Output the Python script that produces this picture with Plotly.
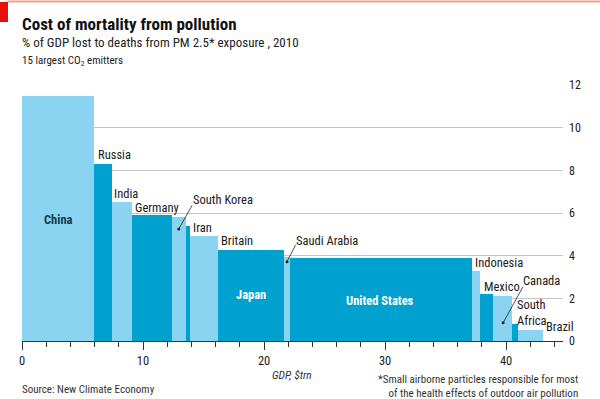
import numpy as np
import plotly.graph_objects as go

countries = ["China", "Russia", "India", "Germany", "South Korea", "Iran", "Britain", "Japan",
             "Saudi Arabia", "United States", "Indonesia", "Mexico", "Canada", "South Africa", "Brazil"]
gdp_trn = [5.92, 1.49, 1.71, 3.31, 1.10, 0.36, 2.28, 5.49, 0.52, 14.96, 0.69, 1.10, 1.55, 0.47, 2.12]
pct_gdp_lost = [11.5, 8.3, 6.5, 5.9, 5.8, 5.4, 4.9, 4.28, 3.92, 3.88, 3.3, 2.2, 2.1, 0.8, 0.5]
y_ticks = [0, 2, 4, 6, 8, 10, 12]
x_ticks = [0, 10, 20, 30, 40]

LIGHT = "#8bd4f1"
DARK = "#00a1cf"
FONT = "Liberation Sans Narrow, Roboto Condensed, Open Sans, sans-serif"

gdp = np.array(gdp_trn)
right = np.cumsum(gdp)
left = right - gdp
mid = (left + right) / 2
colors = [LIGHT if i % 2 == 0 else DARK for i in range(len(countries))]

fig = go.Figure()
fig.add_trace(go.Bar(x=mid, y=pct_gdp_lost, width=gdp, marker=dict(color=colors, line=dict(width=0)),
                     hoverinfo="skip", showlegend=False))

# label placement (layout): country -> (x, y, anchor, style)
label_pos = {
    "China": (3.0, 5.7, "center", "in_dark"),
    "Russia": (6.25, 8.72, "left", "out"),
    "India": (7.63, 6.91, "left", "out"),
    "Germany": (9.34, 6.25, "left", "out"),
    "South Korea": (14.13, 6.63, "left", "out"),
    "Iran": (14.13, 5.3, "left", "out"),
    "Britain": (16.45, 4.72, "left", "out"),
    "Japan": (18.9, 2.2, "center", "in_white"),
    "Saudi Arabia": (22.67, 4.72, "left", "out"),
    "United States": (29.6, 1.9, "center", "in_white"),
    "Indonesia": (37.46, 3.66, "left", "out"),
    "Mexico": (38.15, 2.56, "left", "out"),
    "Canada": (41.4, 2.83, "left", "out"),
    "South Africa": (40.9, 1.34, "left", "out"),
    "Brazil": (43.27, 0.66, "left", "out"),
}
ann = []
for c in countries:
    x, y, anc, style = label_pos[c]
    txt = c.replace("South Africa", "South<br>Africa")
    if style == "out":
        f = dict(family=FONT, size=12.5, color="#1a1a1a")
    elif style == "in_dark":
        f = dict(family=FONT, size=12.5, color="#123a4d")
        txt = "<b>" + txt + "</b>"
    else:
        f = dict(family=FONT, size=12.5, color="white")
        txt = "<b>" + txt + "</b>"
    ann.append(dict(x=x, y=y, xref="x", yref="y", text=txt, showarrow=False, xanchor=anc,
                    xshift=-2 if anc == "left" else 0, yanchor="middle", font=f, align="left"))

# pointer lines for narrow bars
pointers = [((14.05, 6.35), (12.95, 5.25)), ((22.6, 4.5), (21.9, 3.72)), ((41.4, 2.55), (39.75, 0.85))]
shapes = []
for (x0, y0), (x1, y1) in pointers:
    shapes.append(dict(type="line", xref="x", yref="y", x0=x0, y0=y0, x1=x1, y1=y1,
                       line=dict(color="#222", width=0.8)))
fig.add_trace(go.Scatter(x=[p[1][0] for p in pointers], y=[p[1][1] for p in pointers], mode="markers",
                         marker=dict(color="#222", size=3), hoverinfo="skip", showlegend=False))


def py(ypix):
    return (399 - 58 - ypix) / 256


def px(xpix):
    return (xpix - 22) / 541


# header decorations
shapes.append(dict(type="rect", xref="paper", yref="paper", x0=px(0), x1=px(8),
                   y0=py(22), y1=py(2), fillcolor="#e3120b", line=dict(width=0)))
shapes.append(dict(type="line", xref="paper", yref="paper", x0=px(8), x1=px(600),
                   y0=py(1.5), y1=py(1.5), line=dict(color="#f2a08a", width=2)))

ann += [
    dict(xref="paper", yref="paper", x=px(20), y=py(24), text="<b>Cost of mortality from pollution</b>",
         showarrow=False, xanchor="left", yanchor="middle", font=dict(family=FONT, size=17, color="#111")),
    dict(xref="paper", yref="paper", x=px(20), y=py(42),
         text="% of GDP lost to deaths from PM 2.5* exposure , 2010",
         showarrow=False, xanchor="left", yanchor="middle", font=dict(family=FONT, size=13, color="#222")),
    dict(xref="paper", yref="paper", x=px(20), y=py(61), text="15 largest CO<sub>2</sub> emitters",
         showarrow=False, xanchor="left", yanchor="middle", font=dict(family=FONT, size=11, color="#222")),
    dict(xref="paper", yref="paper", x=px(292), y=py(375), text="<i>GDP, $trn</i>",
         showarrow=False, xanchor="center", yanchor="middle", font=dict(family=FONT, size=11.5, color="#333")),
    dict(xref="paper", yref="paper", x=px(20), y=py(389), text="Source: New Climate Economy",
         showarrow=False, xanchor="left", yanchor="middle", font=dict(family=FONT, size=11, color="#333")),
    dict(xref="paper", yref="paper", x=px(580), y=py(386),
         text="*Small airborne particles responsible for most<br>of the health effects of outdoor air pollution",
         showarrow=False, xanchor="right", yanchor="middle", align="right",
         font=dict(family=FONT, size=11, color="#333")),
]

fig.update_layout(
    width=600, height=399,
    margin=dict(l=22, r=37, t=85, b=58, autoexpand=False),
    paper_bgcolor="white", plot_bgcolor="white",
    bargap=0,
    annotations=ann, shapes=shapes,
    xaxis=dict(range=[0, 44.7], tickvals=x_ticks, ticks="outside", ticklen=8, tickcolor="#333",
               tickwidth=1, showgrid=False, zeroline=False, showline=True, linecolor="#333", linewidth=1,
               tickfont=dict(family=FONT, size=12.5, color="#222"),
               minor=dict(dtick=2, ticks="outside", ticklen=5, tickcolor="#333", showgrid=False)),
    yaxis=dict(range=[0, 12], tickvals=y_ticks, side="right", showgrid=True, gridcolor="#c4c4c4",
               gridwidth=1.4, zeroline=False, ticks="", showline=False, ticklabelstandoff=5,
               tickfont=dict(family=FONT, size=12, color="#222")),
)

fig.write_html("out.html", config={"displayModeBar": False},
               post_script="document.body.style.margin='0';document.body.style.padding='0';"
                           "document.documentElement.style.overflow='hidden';")
